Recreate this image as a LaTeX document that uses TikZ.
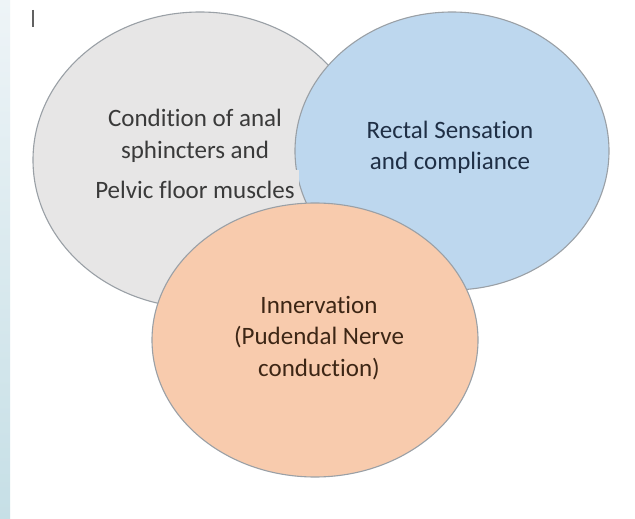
\documentclass[tikz,border=0pt]{standalone}
\usepackage{fontspec}
\setmainfont[Ligatures=NoCommon]{Carlito}
\definecolor{greyfill}{HTML}{E7E6E6}
\definecolor{bluefill}{HTML}{BDD7EE}
\definecolor{orangefill}{HTML}{F8CBAD}
\definecolor{edgecol}{HTML}{9AA0A6}
\definecolor{greytext}{HTML}{3A3A3A}
\definecolor{bluetext}{HTML}{1F2F45}
\definecolor{orangetext}{HTML}{3D2615}
\definecolor{stripT}{HTML}{EEF4F7}
\definecolor{stripB}{HTML}{C6DFE6}
\begin{document}
\begin{tikzpicture}[x=1pt,y=-1pt,
  venn/.style={draw=edgecol,line width=1.1pt},
  lbl/.style={align=center,font=\fontsize{25}{32}\selectfont,inner sep=0pt}]
\useasboundingbox (0,0) rectangle (635,519);
\fill[white] (0,0) rectangle (635,519);
\shade[top color=stripT,bottom color=stripB] (0,0) rectangle (10,519);
\draw[greytext!80,line width=1.5pt] (33,10) -- (33,27);
% ellipses
\draw[venn,fill=greyfill] (200,160) ellipse [x radius=167,y radius=148];
\draw[venn,fill=bluefill] (452,151) ellipse [x radius=157,y radius=139];
\fill[greyfill] (90,170) rectangle (299,206);
\draw[venn,fill=orangefill] (315,340) ellipse [x radius=163,y radius=137];
% labels
\node[lbl,text=greytext] (cond) at (195,154) {Condition of anal\\sphincters and\\[8pt]Pelvic floor muscles};
\node[lbl,text=bluetext,font=\fontsize{25}{31}\selectfont] (rect) at (450,147.5) {Rectal Sensation\\and compliance};
\node[lbl,text=orangetext,font=\fontsize{25}{31.5}\selectfont] (inn) at (319,338) {Innervation\\(Pudendal Nerve\\conduction)};
\end{tikzpicture}
\end{document}
